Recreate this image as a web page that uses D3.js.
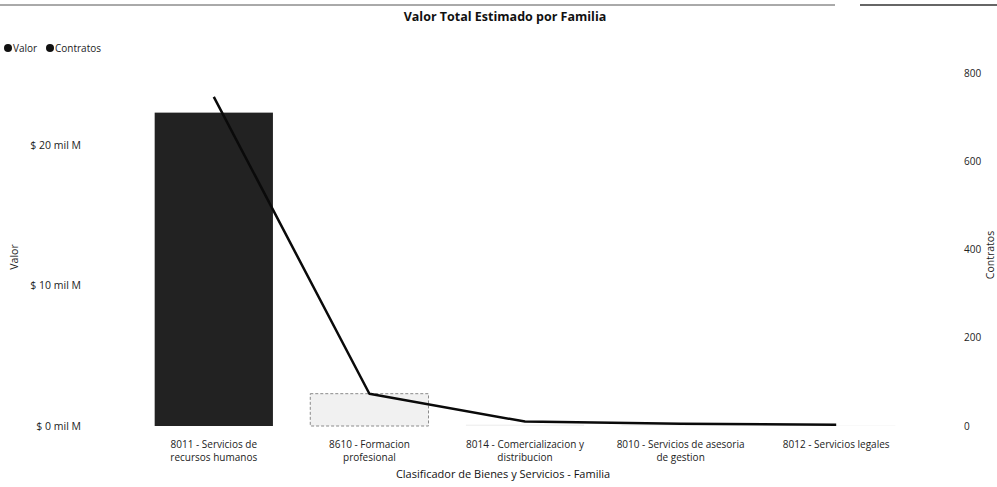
<!DOCTYPE html>
<html>
<head>
<meta charset="utf-8">
<script src="https://cdn.jsdelivr.net/npm/d3@7/dist/d3.min.js"></script>
<style>
  html, body { margin: 0; padding: 0; background: #fff; }
  svg { display: block; font-family: "Open Sans", "Noto Sans", sans-serif; }
</style>
</head>
<body>
<svg id="chart" width="997" height="487"></svg>
<script>
// Families (two-line labels as shown under each column)
const categories = [
  ["8011 - Servicios de", "recursos humanos"],
  ["8610 - Formacion", "profesional"],
  ["8014 - Comercializacion y", "distribucion"],
  ["8010 - Servicios de asesoria", "de gestion"],
  ["8012 - Servicios legales"]
];
// Estimated total value, in "mil M" (thousands of millions of pesos)
const valor = [22.3, 2.3, 0.1, 0.05, 0.03];
// Number of contracts per family
const contratos = [746, 73, 10, 5, 3];
const valorTicks = [0, 10, 20];
const contratosTicks = [0, 200, 400, 600, 800];

const svg = d3.select("#chart");
const plot = { left: 136, right: 914, top: 73, bottom: 426 };

// thin rule along the top edge of the page
svg.append("line").attr("x1", 0).attr("x2", 835).attr("y1", 5).attr("y2", 5)
  .attr("stroke", "#555").attr("stroke-width", 1);
svg.append("line").attr("x1", 860).attr("x2", 997).attr("y1", 5).attr("y2", 5)
  .attr("stroke", "#333").attr("stroke-width", 1.3);

const x = d3.scaleBand()
  .domain(d3.range(categories.length))
  .range([plot.left, plot.right])
  .paddingInner(0.24)
  .paddingOuter(0.12);

const yLeft = d3.scaleLinear()
  .domain([0, 25.12])
  .range([plot.bottom, plot.top]);

const yRight = d3.scaleLinear()
  .domain([0, 800])
  .range([plot.bottom, plot.top]);

// Title
svg.append("text")
  .attr("x", 505).attr("y", 21)
  .attr("text-anchor", "middle")
  .attr("font-size", 12.5).attr("font-weight", 700)
  .attr("fill", "#111")
  .text("Valor Total Estimado por Familia");

// Legend
const legend = svg.append("g").attr("font-size", 10).attr("fill", "#222");
[["Valor", 4], ["Contratos", 46]].forEach(([label, lx]) => {
  legend.append("circle").attr("cx", lx + 4).attr("cy", 48).attr("r", 4).attr("fill", "#111");
  legend.append("text").attr("x", lx + 9).attr("y", 52).attr("fill", "#222").text(label);
});

// Left axis (Valor)
const leftAxis = d3.axisLeft(yLeft)
  .tickValues(valorTicks)
  .tickSize(0)
  .tickFormat(d => `$ ${d} mil M`);
const gl = svg.append("g").attr("transform", "translate(84,0)").call(leftAxis);
gl.select(".domain").remove();
gl.selectAll("text").attr("font-size", 10.5).attr("fill", "#222")
  .attr("font-family", "'Open Sans', sans-serif").attr("dx", 0);

svg.append("text")
  .attr("transform", "translate(18,257) rotate(-90)")
  .attr("text-anchor", "middle")
  .attr("font-size", 10.5).attr("fill", "#222")
  .text("Valor");

// Right axis (Contratos)
const rightAxis = d3.axisRight(yRight)
  .tickValues(contratosTicks)
  .tickSize(0)
  .tickFormat(d3.format("d"));
const gr = svg.append("g").attr("transform", "translate(961,0)").call(rightAxis);
gr.select(".domain").remove();
gr.selectAll("text").attr("font-size", 10).attr("fill", "#222")
  .attr("font-family", "'Open Sans', sans-serif").attr("dx", 0);

svg.append("text")
  .attr("transform", "translate(994,255) rotate(-90)")
  .attr("text-anchor", "middle")
  .attr("font-size", 10.5).attr("fill", "#222")
  .text("Contratos");

// Bars: the leading family is solid, the rest light with a dashed outline
svg.append("g").selectAll("rect")
  .data(valor)
  .join("rect")
  .attr("x", (d, i) => x(i))
  .attr("width", x.bandwidth())
  .attr("y", d => yLeft(d))
  .attr("height", d => yLeft(0) - yLeft(d))
  .attr("fill", (d, i) => i === 0 ? "#222" : "#f1f1f1")
  .attr("stroke", (d, i) => (i === 0 || yLeft(0) - yLeft(d) < 4) ? "none" : "#8a8a8a")
  .attr("stroke-width", 1)
  .attr("stroke-dasharray", "3,2");

// Contratos line
const line = d3.line()
  .x((d, i) => x(i) + x.bandwidth() / 2)
  .y(d => yRight(d));
svg.append("path")
  .datum(contratos)
  .attr("d", line)
  .attr("fill", "none")
  .attr("stroke", "#0a0a0a")
  .attr("stroke-width", 2.5)
  .attr("stroke-linejoin", "round");

// Category labels
const xl = svg.append("g").attr("font-size", 10).attr("fill", "#222");
categories.forEach((lines, i) => {
  const t = xl.append("text")
    .attr("x", x(i) + x.bandwidth() / 2)
    .attr("y", 448)
    .attr("text-anchor", "middle")
    .attr("fill", "#222");
  lines.forEach((s, j) => {
    t.append("tspan").attr("x", x(i) + x.bandwidth() / 2).attr("dy", j === 0 ? 0 : 13).text(s);
  });
});

svg.append("text")
  .attr("x", 503).attr("y", 478)
  .attr("text-anchor", "middle")
  .attr("font-size", 11).attr("fill", "#111")
  .text("Clasificador de Bienes y Servicios - Familia");
</script>
</body>
</html>
